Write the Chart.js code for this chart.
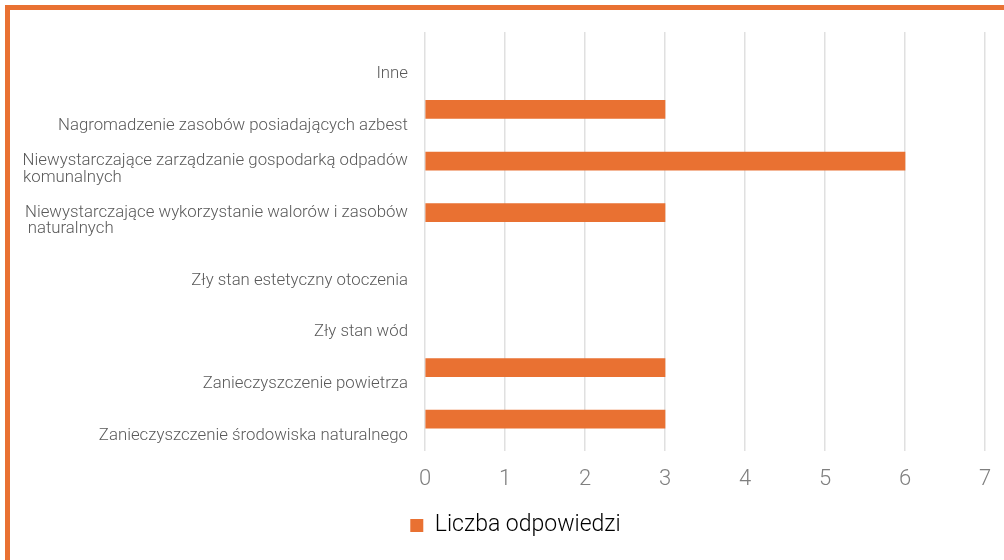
<!DOCTYPE html>
<html>
<head>
<meta charset="utf-8">
<script src="https://cdn.jsdelivr.net/npm/chart.js@4/dist/chart.umd.min.js"></script>
<style>
    html, body { margin: 0; padding: 0; background: #ffffff; overflow: hidden; }
    #frame {
        position: absolute; left: 5px; top: 5px;
        width: 1010px; height: 560px;
        border: 5px solid #E97132;
        box-sizing: border-box;
    }
    #wrap { position: absolute; left: 10px; top: 10px; width: 994px; height: 550px; }
</style>
</head>
<body>
<div id="frame"></div>
<div id="wrap"><canvas id="chart"></canvas></div>
<script>
// --- data ---
const categories = [
    ['Inne'],
    ['Nagromadzenie zasobów posiadających azbest'],
    ['Niewystarczające zarządzanie gospodarką odpadów', 'komunalnych'],
    ['Niewystarczające wykorzystanie walorów i zasobów', 'naturalnych'],
    ['Zły stan estetyczny otoczenia'],
    ['Zły stan wód'],
    ['Zanieczyszczenie powietrza'],
    ['Zanieczyszczenie środowiska naturalnego']
];
const answers = [0, 3, 6, 3, 0, 0, 3, 3];
const xTicks = [0, 1, 2, 3, 4, 5, 6, 7];
const seriesName = 'Liczba odpowiedzi';

const ORANGE = '#E97132';
const FAMILY = 'Roboto';
const labelFont = { family: FAMILY, size: 16.8, weight: '300', lineHeight: 0.99 };

// Excel puts wrapped labels as a left-aligned block; pad the short line with spaces
// so that right alignment in Chart.js reads the same way.
const measure = document.createElement('canvas').getContext('2d');
const fontStr = () => `${labelFont.weight} ${labelFont.size}px "${labelFont.family}"`;
function blockLabel(lines) {
    if (lines.length === 1) return ['', lines[0]];
    const full = measure.measureText(lines[0]).width;
    let second = lines[1];
    while (measure.measureText(second + ' ').width <= full) second += ' ';
    return [lines[0], second];
}

// legend sits a bit right of the canvas centre in the original
const legendNudge = {
    id: 'legendNudge',
    afterLayout(chart) {
        if (chart.legend) chart.legend.left += 36;
    }
};

const ctx = document.getElementById('chart').getContext('2d');
document.fonts.load(fontStr()).then(() => {
    measure.font = fontStr();
    new Chart(ctx, {
        type: 'bar',
        data: {
            labels: categories.map(blockLabel),
            datasets: [{
                label: seriesName,
                data: answers,
                backgroundColor: c => (c.raw === 0 ? 'rgba(0,0,0,0)' : ORANGE),
                borderWidth: 0,
                barThickness: 18
            }]
        },
        options: {
            indexAxis: 'y',
            responsive: true,
            maintainAspectRatio: false,
            animation: false,
            layout: { padding: { top: 22, right: 19, bottom: 13, left: 0 } },
            plugins: {
                tooltip: { enabled: false },
                legend: {
                    position: 'bottom',
                    labels: {
                        boxWidth: 13, boxHeight: 13, padding: 10,
                        color: '#595959',
                        generateLabels: chart => [{
                            text: seriesName, fillStyle: ORANGE, strokeStyle: ORANGE,
                            lineWidth: 0, hidden: false, datasetIndex: 0
                        }],
                        font: { family: FAMILY, size: 23, weight: '300' }
                    }
                }
            },
            scales: {
                x: {
                    min: 0, max: 7,
                    afterBuildTicks: scale => { scale.ticks = xTicks.map(v => ({ value: v })); },
                    afterFit: scale => {
                        scale.height = 59;
                        scale.paddingLeft = 0;
                        scale.paddingRight = 0;
                    },
                    border: { display: false },
                    grid: { color: '#e0e0e0', lineWidth: 1.5, tickLength: 6 },
                    ticks: {
                        padding: 15,
                        color: '#7f7f7f',
                        font: { family: FAMILY, size: 22, weight: '300' }
                    }
                },
                y: {
                    afterFit: scale => {
                        scale.width = 415;
                        scale.paddingTop = 0;
                        scale.paddingBottom = 0;
                    },
                    border: { display: false },
                    grid: { display: false, drawTicks: false },
                    ticks: {
                        padding: 17,
                        labelOffset: 8,
                        color: '#595959',
                        font: labelFont
                    }
                }
            }
        },
        plugins: [legendNudge]
    });
});
</script>
</body>
</html>
